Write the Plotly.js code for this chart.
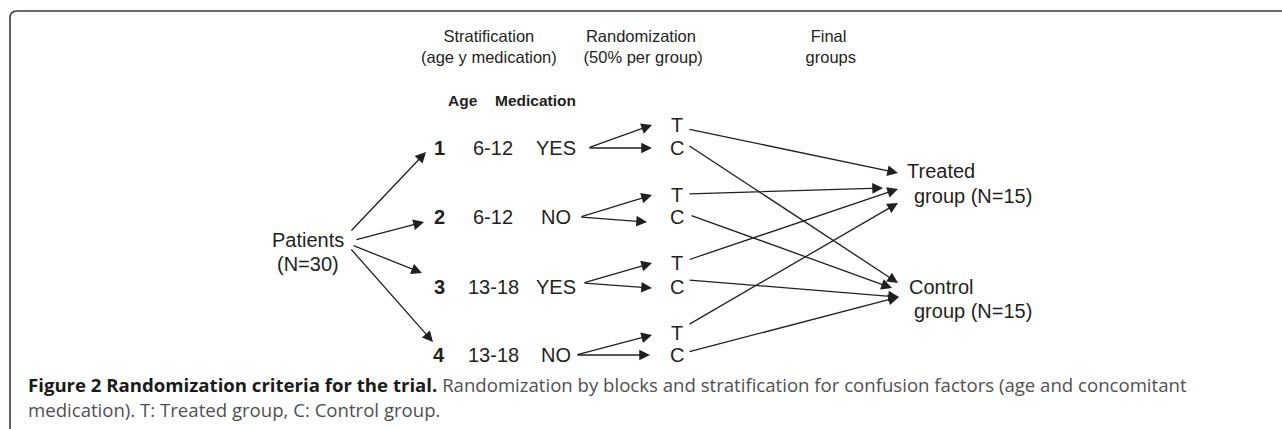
<!DOCTYPE html>
<html>
<head>
<meta charset="utf-8">
<script src="https://cdn.plot.ly/plotly-3.0.1.min.js"></script>
<style>html,body{margin:0;padding:0;background:#fff;}#chart{width:1282px;height:429px;}</style>
</head>
<body>
<div id="chart"></div>
<script>
// ---------- DATA ----------
const stageHeaders = ['Stratification<br>(age y medication)', 'Randomization<br> (50% per group)', 'Final<br> groups'];
const subHeaders = ['Age', 'Medication'];
const strata = ['1', '2', '3', '4'];
const ageBands = ['6-12', '6-12', '13-18', '13-18'];
const medication = ['YES', 'NO', 'YES', 'NO'];
const arms = ['T', 'C'];
const armTarget = [0, 1];              // T -> Treated group, C -> Control group
const finalGroups = ['Treated', 'Control'];
const groupN = [15, 15];
const totalN = 30;
const captionBold = 'Figure 2 Randomization criteria for the trial.';
const captionLine1 = 'Randomization by blocks and stratification for confusion factors (age and concomitant';
const captionLine2 = 'medication). T: Treated group, C: Control group.';

// ---------- GEOMETRY (pixel layout of the diagram) ----------
const G = {
  headerX: [489, 641, 828], headerY: 46,
  subHeaderX: [463, 535], subHeaderY: 100,
  numX: 439, ageX: 493, medX: 556, armX: 677,
  rowY: [148, 217, 287, 355],
  armY: [[125, 148], [195, 217], [263, 287], [333, 355]],
  patientsX: 308, patientsY: [240, 264],
  patTail: [[350, 232], [355, 240], [352, 245], [350, 248]],
  patHead: [[426, 152], [424, 222], [422, 273], [433, 342]],
  medTail: [[588, 148], [580, 217], [583, 283], [576, 355]],
  armHead: [[[652, 125], [652, 148]], [[652, 195], [647, 222]], [[652, 263], [652, 288]], [[652, 335], [650, 355]]],
  armTail: [[[688, 129], [688, 145]], [[688, 194], [690, 215]], [[688, 260], [688, 280]], [[688, 325], [688, 352]]],
  finalHead: [[[898, 173], [898, 283]], [[883, 188], [892, 288]], [[898, 189], [899, 297]], [[898, 203], [899, 297]]],
  groupX: [905, 907], groupSubX: 912, groupY: [[171, 196], [287, 311]],
  captionX: 26, captionY: [384, 409]
};

const INK = '#231f20';
const DIAG_FONT = 'Liberation Sans, Arial, sans-serif';
const CAP_FONT = 'Open Sans, sans-serif';
const BODY = 20;

const ann = [];
function label(text, x, y, size, opts) {
  ann.push(Object.assign({
    text: text, x: x, y: y, xref: 'x', yref: 'y', showarrow: false,
    xanchor: 'center', yanchor: 'middle',
    font: {family: DIAG_FONT, size: size, color: INK}
  }, opts || {}));
}
function arrow(tail, head) {
  ann.push({
    text: '', x: head[0], y: head[1], ax: tail[0], ay: tail[1],
    xref: 'x', yref: 'y', axref: 'x', ayref: 'y', showarrow: true,
    arrowhead: 2, arrowsize: 1.65, arrowwidth: 1.3, arrowcolor: INK,
    standoff: 0, startstandoff: 0, font: {size: 1}
  });
}

// headers
stageHeaders.forEach((h, i) => label(h, G.headerX[i], G.headerY, 16.5));
subHeaders.forEach((h, i) => label('<b>' + h + '</b>', G.subHeaderX[i], G.subHeaderY, 15.5));

// patients
label('Patients', G.patientsX, G.patientsY[0], BODY);
label('(N=' + totalN + ')', G.patientsX, G.patientsY[1], BODY);

// strata rows
strata.forEach((s, i) => {
  label('<b>' + s + '</b>', G.numX, G.rowY[i], BODY);
  label(ageBands[i], G.ageX, G.rowY[i], BODY);
  label(medication[i], G.medX, G.rowY[i], BODY);
  arrow(G.patTail[i], G.patHead[i]);
  arms.forEach((a, j) => {
    label(a, G.armX, G.armY[i][j], BODY);
    arrow(G.medTail[i], G.armHead[i][j]);
    arrow(G.armTail[i][j], G.finalHead[i][armTarget[j]]);
  });
});

// final groups
finalGroups.forEach((g, k) => {
  label(g, G.groupX[k], G.groupY[k][0], BODY, {xanchor: 'left'});
  label('group (N=' + groupN[k] + ')', G.groupSubX, G.groupY[k][1], BODY, {xanchor: 'left'});
});

// caption
ann.push({
  text: '<b>' + captionBold + '</b> <span style="color:#505052">' + captionLine1 + '</span>',
  x: G.captionX, y: G.captionY[0], xref: 'x', yref: 'y', showarrow: false,
  xanchor: 'left', yanchor: 'middle', font: {family: CAP_FONT, size: 18.6, color: '#1a1a1a'}
});
ann.push({
  text: captionLine2,
  x: G.captionX, y: G.captionY[1], xref: 'x', yref: 'y', showarrow: false,
  xanchor: 'left', yanchor: 'middle', font: {family: CAP_FONT, size: 18.6, color: '#505052'}
});

const layout = {
  width: 1282, height: 429,
  margin: {l: 0, r: 0, t: 0, b: 0},
  paper_bgcolor: '#ffffff', plot_bgcolor: '#ffffff',
  showlegend: false,
  xaxis: {range: [0, 1282], visible: false, fixedrange: true},
  yaxis: {range: [429, 0], visible: false, fixedrange: true},
  annotations: ann,
  shapes: [{
    type: 'path', xref: 'x', yref: 'y',
    path: 'M 10,429 L 10,18 Q 10,11 17,11 L 1282,11',
    line: {color: '#3a3a3a', width: 1.6}
  }]
};

Plotly.newPlot('chart', [{x: [0], y: [0], mode: 'markers', marker: {opacity: 0}, hoverinfo: 'skip'}], layout, {staticPlot: true, displayModeBar: false});
</script>
</body>
</html>
